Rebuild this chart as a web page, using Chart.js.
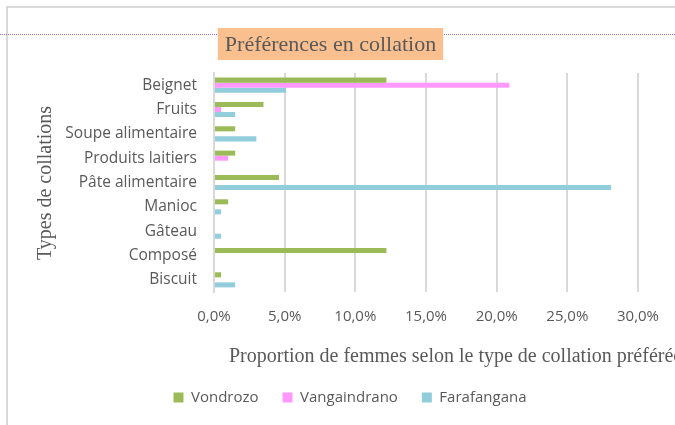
<!DOCTYPE html>
<html>
<head>
<meta charset="utf-8">
<script src="https://cdn.jsdelivr.net/npm/chart.js@4"></script>
<style>
  html, body { margin: 0; padding: 0; background: #fff; }
  #wrap { width: 675px; height: 425px; }
</style>
</head>
<body>
<div id="wrap"><canvas id="snackChart" width="675" height="425"></canvas></div>
<script>
/* =========================
   DONNEES
========================= */
const categories = ["Beignet", "Fruits", "Soupe alimentaire", "Produits laitiers",
  "Pâte alimentaire", "Manioc", "Gâteau", "Composé", "Biscuit"];
const vondrozo     = [12.2, 3.5, 1.5, 1.5, 4.6, 1.0, 0,   12.2, 0.5];
const vangaindrano = [20.9, 0.5, 0,   1.0, 0,   0,   0,   0,    0  ];
const farafangana  = [5.1,  1.5, 3.0, 0,   28.1, 0.5, 0.5, 0,    1.5];
const xTicks = [0, 5, 10, 15, 20, 25, 30];

const chartTitle = "Préférences en collation";
const xTitle = "Proportion de femmes selon le type de collation préférée";
const yTitle = "Types de collations";

const grey = "#595959";
const sansFont = "'Open Sans', 'Liberation Sans', sans-serif";
const serifFont = "'Liberation Serif', 'DejaVu Serif', serif";

/* =========================
   DECOR (cadre, titres)
========================= */
const decor = {
  id: "decor",
  beforeDraw(chart) {
    const c = chart.ctx;
    c.save();
    // cadre du graphique
    c.strokeStyle = "#d9d9d9";
    c.lineWidth = 2;
    c.strokeRect(7, 7, 720, 460);
    // ligne pointillee violette
    c.strokeStyle = "#9a6fc9";
    c.lineWidth = 1;
    c.setLineDash([1, 1]);
    c.beginPath();
    c.moveTo(0, 34.5);
    c.lineTo(675, 34.5);
    c.stroke();
    c.setLineDash([]);
    // titre avec fond orange
    c.font = "22px " + serifFont;
    const w = c.measureText(chartTitle).width;
    c.fillStyle = "#f9bf8f";
    c.fillRect(330.5 - w / 2 - 7, 28, w + 14, 32);
    c.fillStyle = grey;
    c.textAlign = "center";
    c.textBaseline = "middle";
    c.fillText(chartTitle, 330.5, 45);
    // titre axe Y
    c.font = "20px " + serifFont;
    c.translate(46, 183);
    c.rotate(-Math.PI / 2);
    c.fillText(yTitle, 0, 0);
    c.restore();
    // titre axe X (coupe a droite)
    c.save();
    c.font = "20px " + serifFont;
    c.fillStyle = grey;
    c.textAlign = "left";
    c.textBaseline = "middle";
    c.fillText(xTitle, 229, 357);
    c.restore();
  }
};

/* =========================
   GRAPHIQUE
========================= */
const ctx = document.getElementById("snackChart");

new Chart(ctx, {
  type: "bar",
  data: {
    labels: categories,
    datasets: [
      { label: "Vondrozo", data: vondrozo, backgroundColor: "#9bbb59" },
      { label: "Vangaindrano", data: vangaindrano, backgroundColor: "#ff99ff" },
      { label: "Farafangana", data: farafangana, backgroundColor: "#92cddc" }
    ]
  },
  options: {
    indexAxis: "y",
    responsive: false,
    animation: false,
    layout: { padding: { left: 56, right: 31, top: 73, bottom: 10 } },
    datasets: { bar: { categoryPercentage: 0.62, barPercentage: 1 } },
    plugins: {
      title: { display: false },
      tooltip: { enabled: false },
      legend: {
        position: "bottom",
        labels: {
          boxWidth: 10,
          boxHeight: 10,
          padding: 24,
          color: grey,
          font: { family: sansFont, size: 15 }
        }
      }
    },
    scales: {
      x: {
        min: 0,
        max: 30,
        afterBuildTicks(scale) {
          scale.ticks = xTicks.map(v => ({ value: v }));
        },
        afterFit(scale) { scale.height = 74; },
        border: { display: false },
        grid: { color: "#d9d9d9", lineWidth: 2, drawTicks: false },
        ticks: {
          padding: 16,
          color: grey,
          font: { family: sansFont, size: 15 },
          callback: v => v.toFixed(1).replace(".", ",") + "%"
        }
      },
      y: {
        afterFit(scale) { scale.width = 158; },
        border: { display: true, color: "#d9d9d9", width: 2 },
        grid: { display: false, drawTicks: false },
        ticks: {
          padding: 17,
          color: grey,
          font: { family: sansFont, size: 15.5 }
        }
      }
    }
  },
  plugins: [decor]
});
</script>
</body>
</html>
